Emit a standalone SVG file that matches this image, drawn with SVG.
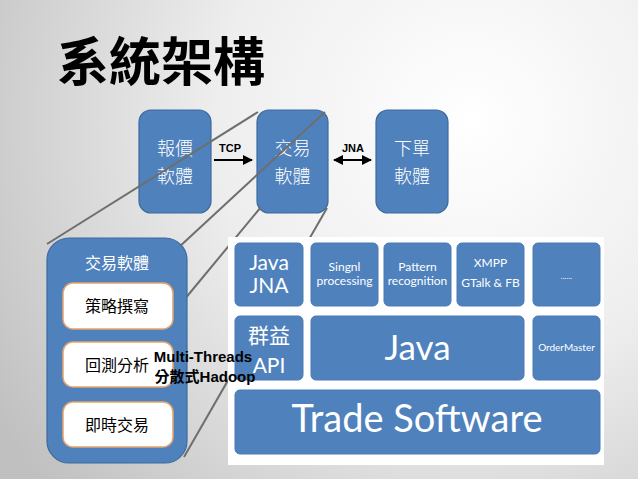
<svg xmlns="http://www.w3.org/2000/svg" width="638" height="479" viewBox="0 0 638 479">
<defs>
<radialGradient id="bg" cx="470" cy="120" r="560" gradientUnits="userSpaceOnUse">
<stop offset="0" stop-color="#ffffff"/>
<stop offset="0.45" stop-color="#eeeeee"/>
<stop offset="1" stop-color="#c0c0c0"/>
</radialGradient>
<marker id="ah" viewBox="0 0 10 10" refX="9" refY="5" markerWidth="5" markerHeight="5" orient="auto-start-reverse" markerUnits="strokeWidth">
<path d="M0,0 L10,5 L0,10 z" fill="#000"/>
</marker>
<style>
.tb{fill:#4f81bd;stroke:#3d6a9e;stroke-width:1.2}
.tt{fill:#fff;font-family:"Noto Sans CJK TC","Noto Sans CJK SC",sans-serif;font-size:18px;font-weight:300;text-anchor:middle}
.zl{stroke:#6e6e6e;stroke-width:2;fill:none}
.ar{stroke:#000;stroke-width:2;fill:none}
.lbl{font-family:"Liberation Sans",Arial,sans-serif;font-weight:bold;font-size:11px;text-anchor:middle;fill:#000}
.ml{font-family:"Liberation Sans","Noto Sans CJK TC",Arial,sans-serif;font-weight:bold;font-size:15px;text-anchor:middle;fill:#000}
.pb{fill:#4f81bd;stroke:#4a7ab3;stroke-width:1}
.pt{fill:#fff;font-family:Lato,"Open Sans","Noto Sans CJK TC",sans-serif;text-anchor:middle}
.ib{fill:#fff;stroke:#e8a46a;stroke-width:1.5}
.it{fill:#000;font-family:"Noto Sans CJK TC","Noto Sans CJK SC",sans-serif;font-size:16px;text-anchor:middle}
</style>
</defs>
<rect width="638" height="479" fill="url(#bg)"/>
<text x="57" y="81" font-family="Noto Sans CJK TC, Noto Sans CJK SC, sans-serif" font-weight="bold" font-size="52" fill="#000">系統架構</text>

<g id="node-baojia">
<rect class="tb" x="139" y="110" width="72" height="103" rx="12"/>
<text class="tt" x="175" y="155">報價</text>
<text class="tt" x="175" y="183">軟體</text>
</g>
<g id="node-jiaoyi">
<rect class="tb" x="257" y="110" width="71" height="103" rx="12"/>
<text class="tt" x="292.5" y="155">交易</text>
<text class="tt" x="292.5" y="183">軟體</text>
</g>
<g id="node-xiadan">
<rect class="tb" x="376" y="110" width="72" height="103" rx="12"/>
<text class="tt" x="412" y="155">下單</text>
<text class="tt" x="412" y="183">軟體</text>
</g>

<g id="connectors">
<line class="zl" x1="47" y1="244" x2="258" y2="112"/>
<line class="zl" x1="325" y1="112" x2="178" y2="248"/>
<line class="zl" x1="261" y1="207" x2="184" y2="300"/>
<line class="zl" x1="327" y1="208" x2="184" y2="457"/>
<line class="ar" x1="214" y1="160" x2="252" y2="160" marker-end="url(#ah)"/>
<line class="ar" x1="334" y1="160" x2="371" y2="160" marker-start="url(#ah)" marker-end="url(#ah)"/>
<text class="lbl" x="230" y="152">TCP</text>
<text class="lbl" x="353" y="152">JNA</text>
</g>

<g id="node-jiaoyi-detail">
<rect x="47" y="238" width="140" height="225" rx="22" fill="#4f81bd" stroke="#3d6a9e" stroke-width="1.2"/>
<text x="117" y="269" fill="#fff" font-family="Noto Sans CJK TC, Noto Sans CJK SC, sans-serif" font-size="16" text-anchor="middle">交易軟體</text>
</g>
<g id="node-celue">
<rect class="ib" x="63" y="283" width="110" height="46" rx="10"/>
<text class="it" x="117" y="312">策略撰寫</text>
</g>
<g id="node-huice">
<rect class="ib" x="63" y="342" width="110" height="45" rx="10"/>
<text class="it" x="117" y="371">回測分析</text>
</g>
<g id="node-jishi">
<rect class="ib" x="63" y="402" width="110" height="45" rx="10"/>
<text class="it" x="117" y="431">即時交易</text>
</g>

<g id="panel">
<rect x="228" y="237" width="376" height="228" fill="#fff"/>
</g>
<g id="node-javajna">
<rect class="pb" x="235" y="243" width="68" height="63" rx="5"/>
<text class="pt" x="269" y="270" font-size="21">Java</text>
<text class="pt" x="269" y="293" font-size="21">JNA</text>
</g>
<g id="node-singnl">
<rect class="pb" x="311" y="243" width="67" height="63" rx="5"/>
<text class="pt" x="344.5" y="271" font-size="12">Singnl</text>
<text class="pt" x="344.5" y="285" font-size="12">processing</text>
</g>
<g id="node-pattern">
<rect class="pb" x="384" y="243" width="67" height="63" rx="5"/>
<text class="pt" x="417.5" y="271" font-size="12">Pattern</text>
<text class="pt" x="417.5" y="285" font-size="12">recognition</text>
</g>
<g id="node-xmpp">
<rect class="pb" x="457" y="243" width="67" height="63" rx="5"/>
<text class="pt" x="490.5" y="267" font-size="12">XMPP</text>
<text class="pt" x="490.5" y="287" font-size="12">GTalk &amp; FB</text>
</g>
<g id="node-more">
<rect class="pb" x="533" y="243" width="67" height="63" rx="5"/>
<text class="pt" x="566.5" y="279" font-size="8">......</text>
</g>
<g id="node-qunyi">
<rect class="pb" x="235" y="316" width="68" height="64" rx="5"/>
<text class="pt" x="269" y="343" font-size="21">群益</text>
<text class="pt" x="269" y="373" font-size="21">API</text>
</g>
<g id="node-java">
<rect class="pb" x="311" y="316" width="213" height="64" rx="5"/>
<text class="pt" x="417.5" y="360" font-size="35">Java</text>
</g>
<g id="node-ordermaster">
<rect class="pb" x="533" y="316" width="67" height="64" rx="5"/>
<text class="pt" x="566.5" y="351" font-size="10">OrderMaster</text>
</g>
<g id="node-trade">
<rect class="pb" x="235" y="390" width="365" height="64" rx="5"/>
<text class="pt" x="417" y="432" font-size="38">Trade Software</text>
</g>

<g id="label-multi">
<text x="203" y="362" class="ml">Multi-Threads</text>
<text x="205" y="382" class="ml">分散式Hadoop</text>
</g>
</svg>
